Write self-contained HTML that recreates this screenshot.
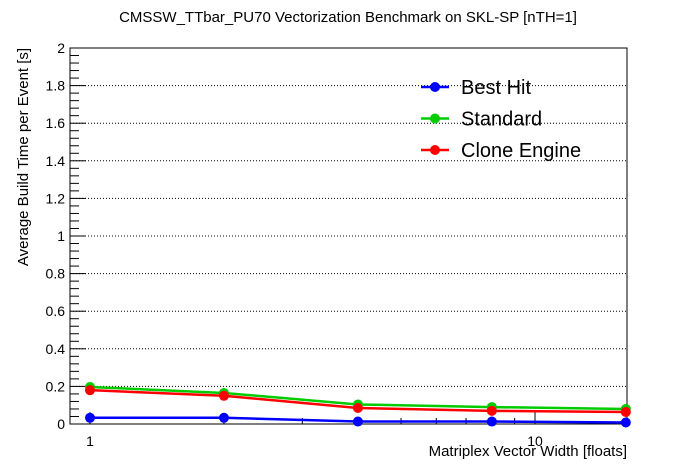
<!DOCTYPE html>
<html><head><meta charset="utf-8"><style>
body{margin:0;background:#fff}
svg{display:block;font-family:"Liberation Sans",sans-serif}
</style></head><body>
<svg id="c" width="696" height="472"></svg>
<script>
const categories=[1,2,4,8,16];
const bestHit=[0.033,0.033,0.013,0.013,0.008];
const standard=[0.197,0.165,0.104,0.09,0.08];
const cloneEngine=[0.18,0.15,0.085,0.07,0.064];
const yTicks=[0,0.2,0.4,0.6,0.8,1,1.2,1.4,1.6,1.8,2];
const yTickLabels=["0","0.2","0.4","0.6","0.8","1","1.2","1.4","1.6","1.8","2"];
const seriesNames=["Best Hit","Standard","Clone Engine"];
const L=70,R=627,T=48,B=424;
const sx=v=>90+445*Math.log10(v);
const sy=v=>B-(B-T)*v/2;
const svg=document.getElementById('c');
const NS='http://www.w3.org/2000/svg';
function mk(t,a,p){const e=document.createElementNS(NS,t);for(const k in a)e.setAttribute(k,a[k]);(p||svg).appendChild(e);return e;}
let e;
e=mk('text',{x:348,y:22,'text-anchor':'middle','font-size':15});e.textContent='CMSSW_TTbar_PU70 Vectorization Benchmark on SKL-SP [nTH=1]';


yTicks.forEach((v,i)=>{const y=sy(v);
 if(i>0&&i<yTicks.length-1){e=mk('line',{x1:L,x2:R,y1:y,y2:y,stroke:'#000','stroke-dasharray':'1,2','stroke-width':1});
 
 }
 mk('line',{x1:L,x2:L+16,y1:y,y2:y,stroke:'#000'});
 e=mk('text',{x:65,y:y+5,'text-anchor':'end','font-size':14});e.textContent=yTickLabels[i];
 
 
 if(i<yTicks.length-1)for(let k=1;k<5;k++){const yy=sy(v+0.04*k);mk('line',{x1:L,x2:L+9,y1:yy,y2:yy,stroke:'#000'});}
});
[2,3,4,5,6,7,8,9,20].forEach(v=>{const x=sx(v);if(x<R)mk('line',{x1:x,x2:x,y1:B,y2:B-6,stroke:'#000'});});
[1,10].forEach(v=>{const x=sx(v);mk('line',{x1:x,x2:x,y1:B,y2:B-12,stroke:'#000'});
 e=mk('text',{x:x,y:446,'text-anchor':'middle','font-size':14});e.textContent=String(v);
 
 });
e=mk('rect',{x:L,y:T,width:R-L,height:B-T,fill:'none',stroke:'#000'});


e=mk('text',{x:R,y:456,'text-anchor':'end','font-size':15});e.textContent='Matriplex Vector Width [floats]';


e=mk('text',{x:0,y:0,'text-anchor':'middle','font-size':15,transform:'translate(28,157) rotate(-90)'});e.textContent='Average Build Time per Event [s]';


const cols=['#0000ff','#00cc00','#ff0000'];
const data=[bestHit,standard,cloneEngine];
data.forEach((s,j)=>{
 e=mk('polyline',{points:s.map((v,i)=>sx(categories[i])+','+sy(v)).join(' '),fill:'none',stroke:cols[j],'stroke-width':2.5});
 
 
 s.forEach((v,i)=>{e=mk('circle',{cx:sx(categories[i]),cy:sy(v),r:5,fill:cols[j]});
 
 });
 const ly=87+j*31.5;
 mk('line',{x1:421,x2:449,y1:ly,y2:ly,stroke:cols[j],'stroke-width':2.5});
 mk('circle',{cx:435,cy:ly,r:5,fill:cols[j]});
 e=mk('text',{x:461,y:ly+7,'font-size':20});e.textContent=seriesNames[j];
 
 
});
</script>
</body></html>
